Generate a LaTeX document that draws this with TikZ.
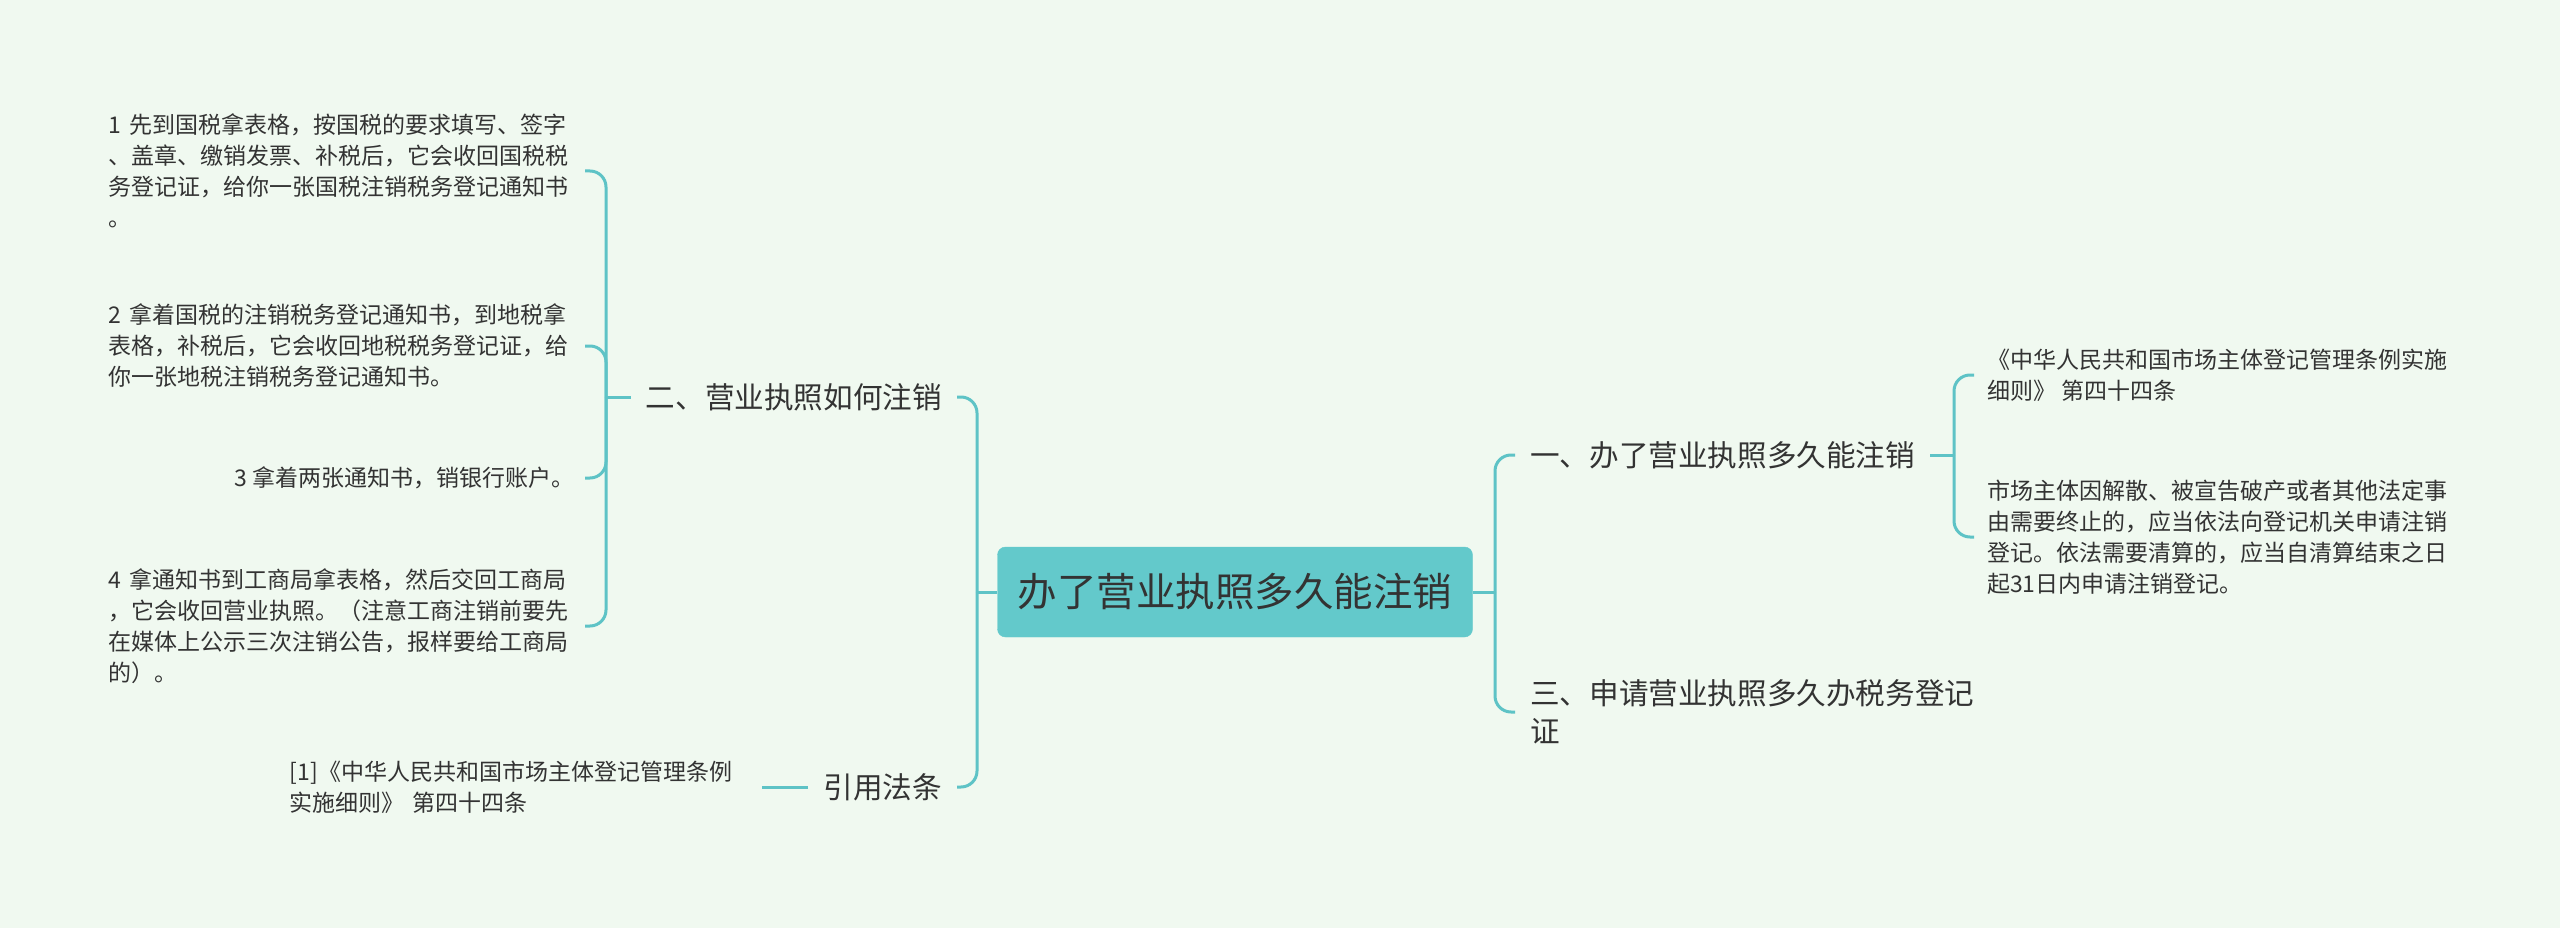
\documentclass[tikz,border=0pt]{standalone}
\usepackage{fontspec}
\setmainfont{Noto Sans CJK SC}
\definecolor{bgmint}{HTML}{F0F9F0}
\definecolor{linkteal}{HTML}{5EC3C6}
\definecolor{rootfill}{HTML}{63C9CB}
\definecolor{inktext}{HTML}{333333}

\begin{document}
\begin{tikzpicture}[x=1pt,y=1pt,
    link/.style={linkteal, line width=3pt, rounded corners=16pt},
    rootbox/.style={fill=rootfill, draw=rootfill, rounded corners=8pt, minimum width=475pt,
      minimum height=90pt, text=inktext, font=\fontsize{39.5}{46}\selectfont},
    topic/.style={text=inktext, inner xsep=15pt, align=left, font=\fontsize{29.6}{38}\selectfont},
    leaf/.style={text=inktext, inner xsep=0pt, align=left, font=\fontsize{23}{31}\selectfont}]

    \fill[bgmint] (0,0) rectangle (2560,-928);

    \node[rootbox] (root) at (1235,-592) {办了营业执照多久能注销};

    % right side
    \node[topic, anchor=west] (one) at (1515,-455) {一、办了营业执照多久能注销};
    \node[topic, anchor=west] (three) at (1515,-712) {三、申请营业执照多久办税务登记\\证};
    \node[leaf, inner xsep=13pt, anchor=west] (rule) at (1974,-375)
        {《中华人民共和国市场主体登记管理条例实施\\细则》 第四十四条};
    \node[leaf, inner xsep=13pt, anchor=west] (clause) at (1974,-537)
        {市场主体因解散、被宣告破产或者其他法定事\\由需要终止的，应当依法向登记机关申请注销\\登记。依法需要清算的，应当自清算结束之日\\起31日内申请注销登记。};

    \coordinate (jr) at (1495,-592);
    \coordinate (jone) at (1954,-455);
    \draw[link] (root.east) -- (jr);
    \draw[link] (jr) |- (one.west);
    \draw[link] (jr) |- (three.west);
    \draw[link] (one.east) -- (jone);
    \draw[link] (jone) |- (rule.west);
    \draw[link] (jone) |- (clause.west);

    % left side
    \node[topic, anchor=east] (two) at (957,-397) {二、营业执照如何注销};
    \node[topic, anchor=east] (cite) at (957,-787) {引用法条};
    \node[leaf, text width=476pt, anchor=east] (stepa) at (585,-171)
        {1 先到国税拿表格，按国税的要求填写、签字\\、盖章、缴销发票、补税后，它会收回国税税\\务登记证，给你一张国税注销税务登记通知书\\。};
    \node[leaf, text width=476pt, anchor=east] (stepb) at (585,-346)
        {2 拿着国税的注销税务登记通知书，到地税拿\\表格，补税后，它会收回地税税务登记证，给\\你一张地税注销税务登记通知书。};
    \node[leaf, inner xsep=10pt, anchor=east] (stepc) at (585,-478) {3 拿着两张通知书，销银行账户。};
    \node[leaf, text width=476pt, anchor=east] (stepd) at (585,-626)
        {4 拿通知书到工商局拿表格，然后交回工商局\\，它会收回营业执照。（注意工商注销前要先\\在媒体上公示三次注销公告，报样要给工商局\\的）。};
    \node[leaf, text width=472pt, anchor=east] (citeleaf) at (762,-787)
        {[1]《中华人民共和国市场主体登记管理条例\\实施细则》 第四十四条};

    \coordinate (jl) at (977,-592);
    \coordinate (jtwo) at (606,-397);
    \draw[link] (root.west) -- (jl);
    \draw[link] (jl) |- (two.east);
    \draw[link] (jl) |- (cite.east);
    \draw[link] (two.west) -- (jtwo);
    \foreach \s in {stepa,stepb,stepc,stepd}
        \draw[link] (jtwo) |- (\s.east);
    \draw[link] (cite.west) -- (citeleaf.east);
\end{tikzpicture}
\end{document}
